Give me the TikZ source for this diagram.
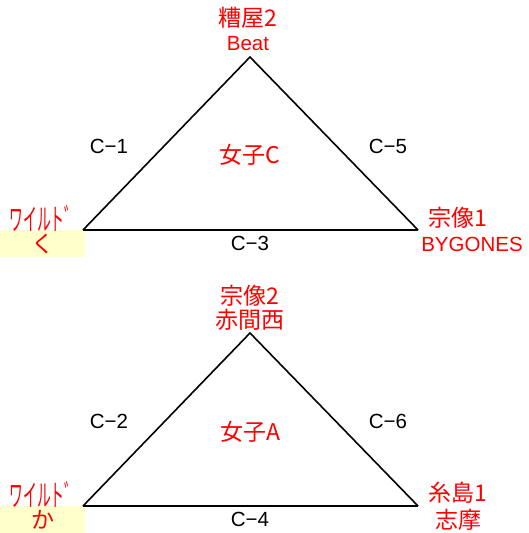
\documentclass[tikz,border=0pt]{standalone}
\usepackage{fontspec}
\setmainfont{Liberation Sans}
\newfontfamily\cjk{Noto Sans CJK JP}
\definecolor{lbl}{RGB}{255,0,0}
\definecolor{wildbg}{RGB}{255,255,204}
\newcommand{\wildname}{\scalebox{0.6}[1.3]{ワイルト゛}}
\begin{document}
\begin{tikzpicture}[x=1pt,y=-1pt,
  team/.style={text=lbl,font=\cjk\fontsize{23}{25}\selectfont,inner sep=0pt},
  sub/.style={text=lbl,font=\fontsize{20.5}{22}\selectfont,inner sep=0pt},
  match/.style={text=black,font=\fontsize{20.5}{22}\selectfont,inner sep=0pt},
  side/.style={line width=1.6pt},
  base/.style={line width=2.6pt}]
\useasboundingbox (0,0) rectangle (528,533);
\fill[white] (0,0) rectangle (528,533);
% top triangle
\coordinate (ta) at (250,57);
\coordinate (tl) at (83,230);
\coordinate (tr) at (418,230);
\fill[wildbg] (0,230) rectangle (85,257);
\draw[side] (tl) -- (ta) -- (tr);
\draw[base] (tl) -- (tr);
\node[team] (t1) at (248,18) {糟屋2};
\node[sub] (t1s) at (248,44) {Beat};
\node[team] (tc) at (250,155) {女子C};
\node[match] (c1) at (109,146) {C−1};
\node[match] (c5) at (388,146) {C−5};
\node[match] (c3) at (250,243) {C−3};
\node[team] (tw) at (44,218) {\wildname};
\node[team] (tws) at (43,244) {く};
\node[team] (tm) at (458,218) {宗像1};
\node[sub] (tms) at (472,244) {BYGONES};
% bottom triangle
\coordinate (ba) at (250,333);
\coordinate (bl) at (83,506);
\coordinate (br) at (418,506);
\fill[wildbg] (0,506) rectangle (85,533);
\draw[side] (bl) -- (ba) -- (br);
\draw[base] (bl) -- (br);
\node[team] (b1) at (250,296) {宗像2};
\node[team] (b1s) at (250,320) {赤間西};
\node[team] (bc) at (250,432) {女子A};
\node[match] (c2) at (109,421) {C−2};
\node[match] (c6) at (388,421) {C−6};
\node[match] (c4) at (250,519) {C−4};
\node[team] (bw) at (44,494) {\wildname};
\node[team] (bws) at (43,520) {か};
\node[team] (bi) at (458,493) {糸島1};
\node[team] (bis) at (458,520) {志摩};
\end{tikzpicture}
\end{document}
